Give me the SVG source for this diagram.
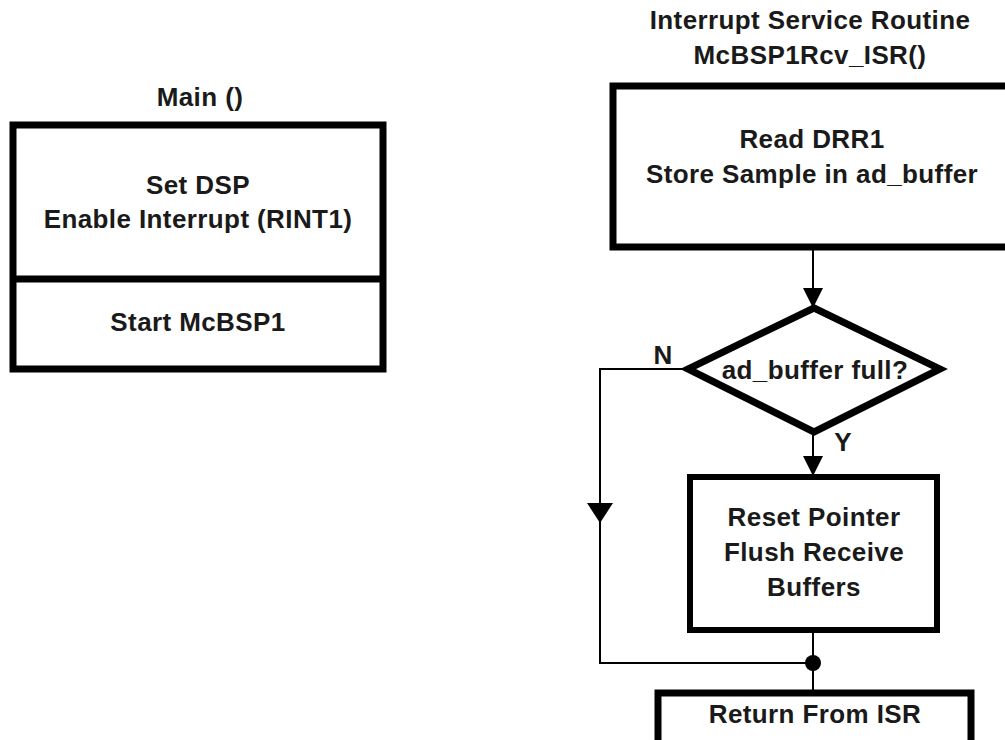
<svg xmlns="http://www.w3.org/2000/svg" width="1005" height="740" viewBox="0 0 1005 740">
<style>
text{font-family:"Liberation Sans",Arial,sans-serif;font-weight:bold;font-size:26px;letter-spacing:0.4px;fill:#1a1a1a;text-anchor:middle}
.box{fill:#fff;stroke:#000;stroke-width:7}
.thin{fill:#fff;stroke:#000;stroke-width:6}
.conn{fill:none;stroke:#000;stroke-width:2}
.ah{fill:#000}
</style>
<rect width="1005" height="740" fill="#fff"/>
<g id="main-title"><text x="200" y="106">Main ()</text></g>
<g id="main">
<rect class="box" x="13" y="125" width="370" height="244"/>
<line x1="13" y1="279" x2="383" y2="279" stroke="#000" stroke-width="7"/>
<text x="198" y="194">Set DSP</text>
<text x="198" y="228">Enable Interrupt (RINT1)</text>
<text x="198" y="331">Start McBSP1</text>
</g>
<g id="isr-title">
<text x="810" y="29">Interrupt Service Routine</text>
<text x="810" y="64">McBSP1Rcv_ISR()</text>
</g>
<g id="connectors">
<line class="conn" x1="813" y1="249" x2="813" y2="300"/>
<polygon class="ah" points="803,288 823,288 813,308"/>
<line class="conn" x1="813" y1="432" x2="813" y2="465"/>
<polygon class="ah" points="803,456 823,456 813,476"/>
<polyline class="conn" points="688,369 600,369 600,663 813,663"/>
<polygon class="ah" points="587,503 613,503 600,523"/>
<line class="conn" x1="813" y1="633" x2="813" y2="690"/>
<circle cx="813" cy="663" r="8" fill="#000"/>
<text x="663" y="364">N</text>
<text x="843" y="451">Y</text>
</g>
<g id="read">
<rect class="box" x="613" y="86" width="400" height="161"/>
<text x="812" y="148">Read DRR1</text>
<text x="812" y="183">Store Sample in ad_buffer</text>
</g>
<g id="decision">
<polygon class="box" points="814,308 940,369 814,432 688,369"/>
<text x="815" y="379">ad_buffer full?</text>
</g>
<g id="reset">
<rect class="thin" x="690" y="477" width="247" height="153"/>
<text x="814" y="526">Reset Pointer</text>
<text x="814" y="561">Flush Receive</text>
<text x="814" y="596">Buffers</text>
</g>
<g id="return">
<rect class="box" x="658" y="693" width="313" height="52"/>
<text x="815" y="723">Return From ISR</text>
</g>
</svg>
